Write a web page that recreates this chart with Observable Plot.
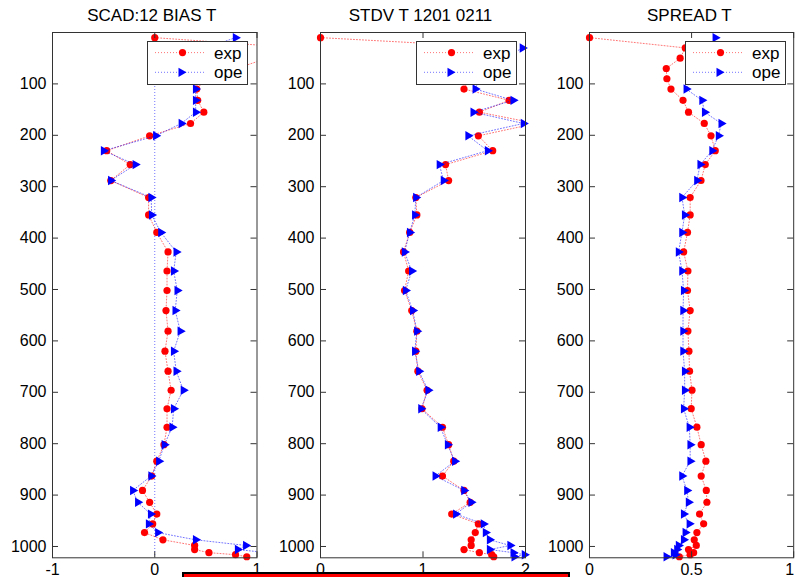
<!DOCTYPE html>
<html>
<head>
<meta charset="utf-8">
<script src="https://cdn.jsdelivr.net/npm/d3@7"></script>
<script src="https://cdn.jsdelivr.net/npm/@observablehq/plot@0.6"></script>
<style>
  html, body { margin: 0; padding: 0; background: #fff; }
  #chart { position: relative; width: 795px; height: 577px; overflow: hidden; background: #fff;
           font-family: "Liberation Sans", Arial, sans-serif; color: #000; }
  .panel { position: absolute; top: 0; }
  .title { position: absolute; top: 7px; font-size: 17px; line-height: 17px; white-space: nowrap;
           transform: translateX(-50%); }
  .legend { position: absolute; background: #fff; border: 1px solid #333; box-sizing: border-box; }
  .legend svg { display: block; }
  .bar { position: absolute; left: 182px; top: 572px; width: 388px; height: 14px; background: #f00;
         border: 2px solid #000; box-sizing: border-box; }
</style>
</head>
<body>
<div id="chart"></div>
<script>
// ---------- data ----------
const levels = [10, 30, 50, 70, 90, 110, 132, 155, 177, 201, 230, 257, 288, 321, 355, 389, 427, 464, 502, 541,
                581, 620, 659, 696, 732, 768, 802, 834, 863, 891, 914, 937, 956, 973, 987, 998, 1006, 1012, 1016, 1020];

const biasExp = [0.0, 1.4, 1.1, 0.8, 0.5, 0.41, 0.42, 0.48, 0.35, -0.05,
                 -0.47, -0.24, -0.43, -0.06, -0.06, 0.02, 0.13, 0.12, 0.12, 0.11,
                 0.13, 0.10, 0.13, 0.16, 0.12, 0.12, 0.09, 0.02, -0.03, -0.12,
                 -0.05, 0.02, -0.02, -0.10, 0.08, 0.39, 0.39, 0.53, 0.79, 0.90];
const biasOpe = [0.79, 0.5, 0.45, 0.42, 0.40, 0.40, 0.40, 0.40, 0.26, 0.01,
                 -0.50, -0.19, -0.43, -0.035, -0.03, 0.06, 0.21, 0.185, 0.22, 0.20,
                 0.25, 0.185, 0.21, 0.28, 0.185, 0.17, 0.094, 0.04, -0.036, -0.215,
                 -0.166, -0.04, -0.06, 0.03, 0.40, 0.89, 0.81, 1.1, 1.15, 1.2];

const stdvExp = [0.0, 1.85, 1.7, 1.55, 1.45, 1.40, 1.84, 1.55, 2.1, 1.54,
                 1.68, 1.22, 1.25, 0.93, 0.94, 0.87, 0.81, 0.86, 0.82, 0.89,
                 0.94, 0.93, 0.95, 1.04, 0.99, 1.19, 1.25, 1.30, 1.19, 1.40,
                 1.46, 1.28, 1.54, 1.51, 1.47, 1.47, 1.40, 1.55, 1.67, 1.69];
const stdvOpe = [2.3, 1.97, 1.8, 1.65, 1.55, 1.51, 1.88, 1.49, 1.98, 1.44,
                 1.63, 1.16, 1.20, 0.93, 0.92, 0.87, 0.82, 0.89, 0.83, 0.90,
                 0.94, 0.92, 0.96, 1.05, 0.98, 1.17, 1.24, 1.31, 1.12, 1.40,
                 1.47, 1.32, 1.59, 1.61, 1.65, 1.85, 1.65, 1.88, 1.99, 1.89];

const spreadExp = [0.0, 0.469, 0.444, 0.376, 0.379, 0.399, 0.458, 0.485, 0.562, 0.595,
                   0.616, 0.567, 0.546, 0.493, 0.493, 0.480, 0.461, 0.482, 0.480, 0.493,
                   0.482, 0.487, 0.490, 0.502, 0.498, 0.526, 0.547, 0.570, 0.547, 0.572,
                   0.575, 0.539, 0.559, 0.526, 0.513, 0.523, 0.485, 0.510, 0.493, 0.44];
const spreadOpe = [0.616, 0.60, 0.56, 0.52, 0.50, 0.474, 0.551, 0.564, 0.645, 0.632,
                   0.600, 0.542, 0.526, 0.453, 0.466, 0.453, 0.436, 0.453, 0.461, 0.458,
                   0.458, 0.458, 0.466, 0.466, 0.461, 0.489, 0.493, 0.493, 0.453, 0.477,
                   0.485, 0.461, 0.489, 0.469, 0.461, 0.436, 0.428, 0.412, 0.42, 0.376];

const titles = ["SCAD:12 BIAS T", "STDV T 1201 0211", "SPREAD T"];
const seriesNames = ["exp", "ope"];
const yTicks = [100, 200, 300, 400, 500, 600, 700, 800, 900, 1000];
const xTicks1 = [-1, 0, 1];
const xTicks2 = [0, 1, 2];
const xTicks3 = [0, 0.5, 1];

// ---------- layout ----------
const chart = document.getElementById("chart");
const TOP = 32, BOTTOM = 557.3, H = 577;
const expColor = "#ff0000", opeColor = "#0000ff";

function makePanel(cfg) {
  const {L, R, xDomain, xTicks, exp, ope, zeroLine, title, lastLabelDx = 0} = cfg;
  const mL = 50, mR = 2, mT = TOP, mB = H - BOTTOM;
  const pw = R - L, ph = BOTTOM - TOP;
  const W = pw + mL + mR;
  const rows = levels.map((p, k) => ({p, e: exp[k], o: ope[k]}));
  const inX = v => v >= xDomain[0] && v <= xDomain[1];
  const lineStyle = {strokeWidth: 1, strokeDasharray: "1,2", strokeOpacity: 0.55, clip: true};
  const axisXStyle = {tickSize: 0, tickPadding: 6, fontSize: 16, label: null, tickFormat: d => String(d)};
  const marks = [];
  if (zeroLine) marks.push(Plot.ruleX([0], {stroke: opeColor, strokeOpacity: 0.55, strokeDasharray: "1,2"}));
  marks.push(
    Plot.line(rows, {x: "e", y: "p", stroke: expColor, ...lineStyle}),
    Plot.dot(rows.filter(d => inX(d.e)), {x: "e", y: "p", r: 3.6, fill: expColor, stroke: null}),
    Plot.line(rows, {x: "o", y: "p", stroke: opeColor, ...lineStyle}),
    Plot.dot(rows.filter(d => inX(d.o)), {x: "o", y: "p", symbol: "triangle", rotate: 90, r: 3.5, fill: opeColor, stroke: null}),
    Plot.frame({stroke: "#333"}),
    Plot.tickY(yTicks, {y: d => d, insetRight: pw - 6, stroke: "#333"}),
    Plot.tickY(yTicks, {y: d => d, insetLeft: pw - 6, stroke: "#333"}),
    Plot.tickX(xTicks, {x: d => d, insetTop: ph - 6, stroke: "#333"}),
    Plot.tickX(xTicks, {x: d => d, insetBottom: ph - 6, stroke: "#333"}),
    Plot.axisY(yTicks, {tickSize: 0, tickPadding: 6, fontSize: 16, label: null, tickFormat: d => String(d)}),
    Plot.axisX(xTicks.slice(0, -1), axisXStyle),
    Plot.axisX(xTicks.slice(-1), {...axisXStyle, dx: lastLabelDx})
  );
  const svg = Plot.plot({
    width: W, height: H,
    marginLeft: mL, marginRight: mR, marginTop: mT, marginBottom: mB,
    x: {domain: xDomain, label: null},
    y: {domain: [0, 1022], reverse: true, label: null},
    style: {background: "transparent", fontFamily: "'Liberation Sans', Arial, sans-serif", fontSize: "16px", color: "#000", overflow: "visible"},
    marks
  });
  svg.classList.add("panel");
  svg.style.left = (L - mL) + "px";
  chart.appendChild(svg);

  // title
  const t = document.createElement("div");
  t.className = "title";
  t.textContent = title;
  t.style.left = ((L + R) / 2 - 2) + "px";
  chart.appendChild(t);

  // legend (opaque box over the data, like the original)
  const lw = 101, lh = 44;
  const lg = document.createElement("div");
  lg.className = "legend";
  lg.style.left = (R - 8 - lw) + "px";
  lg.style.top = "41px";
  lg.style.width = lw + "px";
  lg.style.height = lh + "px";
  const ns = "http://www.w3.org/2000/svg";
  const s = document.createElementNS(ns, "svg");
  s.setAttribute("width", lw - 2);
  s.setAttribute("height", lh - 2);
  seriesNames.forEach((name, k) => {
    const yy = 10.6 + k * 19.7;
    const color = k === 0 ? expColor : opeColor;
    const ln = document.createElementNS(ns, "line");
    ln.setAttribute("x1", 7); ln.setAttribute("x2", 58);
    ln.setAttribute("y1", yy); ln.setAttribute("y2", yy);
    ln.setAttribute("stroke", color); ln.setAttribute("stroke-opacity", 0.55);
    ln.setAttribute("stroke-dasharray", "1,2");
    s.appendChild(ln);
    let m;
    if (k === 0) {
      m = document.createElementNS(ns, "circle");
      m.setAttribute("cx", 34.5); m.setAttribute("cy", yy); m.setAttribute("r", 3.6);
    } else {
      m = document.createElementNS(ns, "polygon");
      m.setAttribute("points", `${30.5},${yy - 4.6} ${30.5},${yy + 4.6} ${38.5},${yy}`);
    }
    m.setAttribute("fill", color);
    s.appendChild(m);
    const tx = document.createElementNS(ns, "text");
    tx.setAttribute("x", 66); tx.setAttribute("y", yy);
    tx.setAttribute("dy", "0.36em");
    tx.setAttribute("font-size", "17");
    tx.setAttribute("font-family", "'Liberation Sans', Arial, sans-serif");
    tx.textContent = name;
    s.appendChild(tx);
  });
  lg.appendChild(s);
  chart.appendChild(lg);
}

makePanel({L: 51.5, R: 256, xDomain: [-1, 1], xTicks: xTicks1, exp: biasExp, ope: biasOpe, zeroLine: true, title: titles[0]});
makePanel({L: 320, R: 525, xDomain: [0, 2], xTicks: xTicks2, exp: stdvExp, ope: stdvOpe, zeroLine: false, title: titles[1]});
makePanel({L: 589.3, R: 793.5, xDomain: [0, 1], xTicks: xTicks3, exp: spreadExp, ope: spreadOpe, zeroLine: false, title: titles[2], lastLabelDx: -4});

const bar = document.createElement("div");
bar.className = "bar";
chart.appendChild(bar);
</script>
</body>
</html>
